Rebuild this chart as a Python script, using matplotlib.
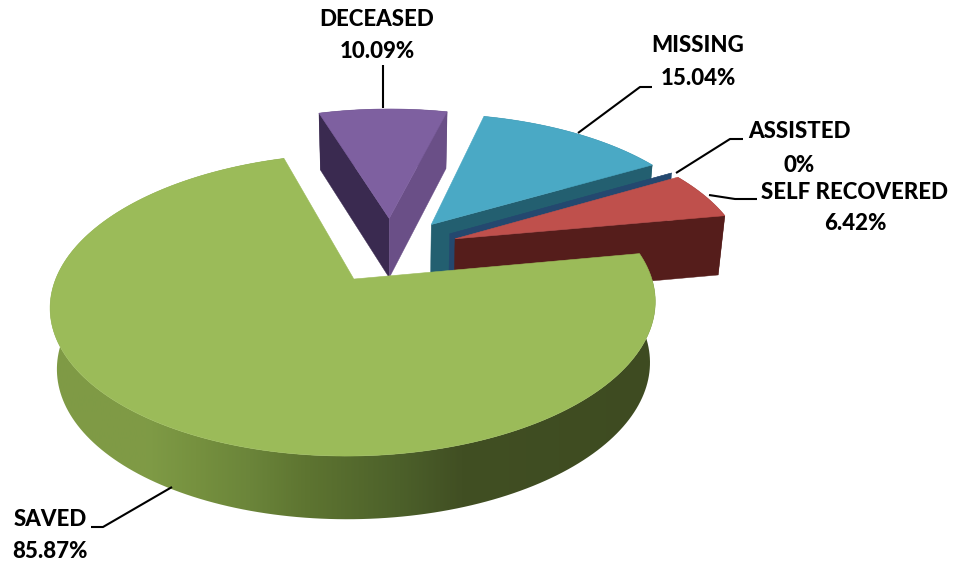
import numpy as np
import matplotlib
matplotlib.use('Agg')
import matplotlib.pyplot as plt
from matplotlib.colors import LinearSegmentedColormap
from matplotlib.patches import Polygon

# 數據
categories = ['SAVED', 'DECEASED', 'MISSING', 'ASSISTED', 'SELF RECOVERED']
values = [85.87, 10.09, 15.04, 0, 6.42]
value_labels = ['85.87%', '10.09%', '15.04%', '0%', '6.42%']

# 顏色
top_colors = ['#9bbb59', '#7e60a0', '#4aa9c5', '#24486f', '#bf504c']
side_colors = ['#5c7030', '#3a2a50', '#235f70', '#24486f', '#551d1b']
side_colors2 = ['#5c7030', '#6a4f87', '#235f70', '#24486f', '#551d1b']

# 投影參數 (平面 -> 像素)
cx, cy = 391, 250
a, b, k = 288, 137, 0.165
explode = 0.24
start_angle = 10.3


def project(x, y, down=False):
    w = 1 + k * y
    sx = cx + a * x / w
    sy = cy - b * y / w
    if down:
        sx = cx + (sx - cx) * 0.98
        sy = sy + 76 - 16 * w
    return np.column_stack([sx, sy])


def rim(a1, a2, ox, oy, down=False):
    t = np.radians(np.linspace(a1, a2, 200))
    return project(np.cos(t) + ox, np.sin(t) + oy, down)


fig = plt.figure(figsize=(9.55, 5.69), dpi=100)
ax = fig.add_axes([0, 0, 1, 1])
ax.set_xlim(0, 955)
ax.set_ylim(569, 0)
ax.axis('off')

# 計算每一片的角度 (順時針)
angle = np.array(values) / sum(values) * 360
ends = start_angle - np.cumsum(angle)
starts = np.concatenate([[start_angle], ends[:-1]])

wall_cmap = LinearSegmentedColormap.from_list('wall', [
    (0.0, '#7f9a45'), (0.16, '#7f9b46'), (0.24, '#76913f'), (0.33, '#6b853a'), (0.42, '#5e7531'),
    (0.58, '#4c602a'), (0.68, '#414f23'), (1.0, '#3e4b21')])


def draw_slice(i):
    a1, a2 = starts[i], ends[i]
    mid = np.radians((a1 + a2) / 2)
    ox, oy = explode * np.cos(mid), explode * np.sin(mid)

    # 外牆
    wall = np.vstack([rim(a1, a2, ox, oy), rim(a2, a1, ox, oy, True)])
    patch = Polygon(wall, closed=True, fc=side_colors[i], ec='none')
    ax.add_patch(patch)
    if i == 0:
        patch.set_facecolor('none')
        img = ax.imshow(np.linspace(0, 1, 600).reshape(1, -1), cmap=wall_cmap, aspect='auto',
                        extent=[49, 655, 569, 0], interpolation='bilinear')
        img.set_clip_path(patch)
        ax.set_xlim(0, 955)
        ax.set_ylim(569, 0)

    # 兩個切面 (只畫朝向鏡頭的)
    apex = project(np.array([ox]), np.array([oy]))
    apex_d = project(np.array([ox]), np.array([oy]), True)
    for ang, col, show in [(a1, side_colors[i], np.cos(np.radians(a1)) < 0),
                           (a2, side_colors2[i], np.cos(np.radians(a2)) > 0)]:
        if not show:
            continue
        t = np.radians(ang)
        p = project(np.array([np.cos(t) + ox]), np.array([np.sin(t) + oy]))
        p_d = project(np.array([np.cos(t) + ox]), np.array([np.sin(t) + oy]), True)
        ax.add_patch(Polygon(np.vstack([apex, p, p_d, apex_d]), closed=True, fc=col, ec=col, lw=0.3))

    # 頂面
    top = np.vstack([apex, rim(a1, a2, ox, oy)])
    ax.add_patch(Polygon(top, closed=True, fc=top_colors[i], ec=top_colors[i], lw=0.4))


# 由後往前畫
for i in [1, 2, 3, 4, 0]:
    draw_slice(i)

# 引線
leaders = {
    'DECEASED': ([383, 383], [108, 65]),
    'MISSING': ([578, 640, 652], [133, 87, 87]),
    'ASSISTED': ([676, 730, 743], [173, 139, 139]),
    'SELF RECOVERED': ([709, 735, 757], [195, 199, 199]),
    'SAVED': ([172, 103, 91], [487, 527, 527]),
}
for name in categories:
    ax.plot(leaders[name][0], leaders[name][1], color='black', lw=1.5, solid_capstyle='butt')

# 標籤
label_pos = {
    'SAVED': (50, 520, 50, 552),
    'DECEASED': (377, 19, 377, 51),
    'MISSING': (698, 45, 698, 78),
    'ASSISTED': (799, 131, 799, 165),
    'SELF RECOVERED': (854, 192, 855, 223),
}
for name, val in zip(categories, value_labels):
    x1, y1, x2, y2 = label_pos[name]
    ax.text(x1, y1, name, ha='center', va='center', fontsize=16, fontweight=900,
            family='Lato', color='black')
    ax.text(x2, y2, val, ha='center', va='center', fontsize=16, fontweight=900,
            family='Lato', color='black')

fig.savefig('out.png', dpi=100)
